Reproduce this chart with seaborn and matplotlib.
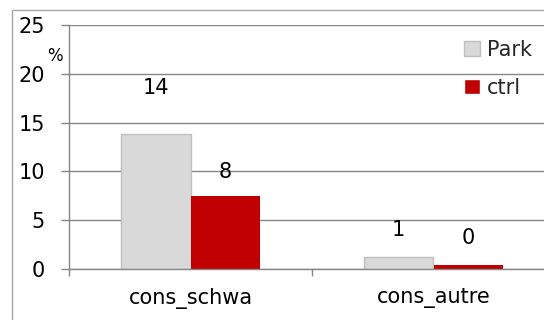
import matplotlib
matplotlib.use("Agg")
import matplotlib.pyplot as plt
import seaborn as sns
import pandas as pd
from matplotlib.patches import Rectangle

categories = ["cons_schwa", "cons_autre"]
groups = ["Park", "ctrl"]
park_values = [13.8, 1.2]
ctrl_values = [7.5, 0.4]
park_labels = ["14", "1"]
ctrl_labels = ["8", "0"]
y_ticks = [0, 5, 10, 15, 20, 25]

df = pd.DataFrame({
    "cat": categories * 2,
    "grp": [groups[0]] * len(categories) + [groups[1]] * len(categories),
    "val": park_values + ctrl_values,
})

sns.set_theme(style="white")
plt.rcParams["font.family"] = ["DejaVu Sans"]

GRAY = "#868686"
fig = plt.figure(figsize=(5.44, 3.2), dpi=100)
ax = fig.add_axes([69/544, 1-269/320, (555-69)/544, (269-25)/320])

sns.barplot(data=df, x="cat", y="val", hue="grp", order=categories, hue_order=groups,
            palette=["#D9D9D9", "#C00000"], saturation=1, width=0.572, gap=0,
            ax=ax, legend=True)

for p in ax.containers[0]:
    p.set_edgecolor("#BFBFBF")
    p.set_linewidth(1.0)
for p in ax.containers[1]:
    p.set_edgecolor("none")

ax.set_xlim(-0.5, 1.5)
ax.set_ylim(0, 25)
ax.set_yticks(y_ticks)
ax.set_yticklabels([str(t) for t in y_ticks])
ax.set_xlabel("")
ax.set_ylabel("")
ax.yaxis.grid(True, color=GRAY, linewidth=1.0)
ax.set_axisbelow(True)
for s in ["top", "right"]:
    ax.spines[s].set_visible(False)
for s in ["left", "bottom"]:
    ax.spines[s].set_color(GRAY)
    ax.spines[s].set_linewidth(1.0)

ax.tick_params(axis="y", which="major", left=True, length=6, width=1.0, color=GRAY,
               pad=11.5, labelsize=15, labelcolor="black")
ax.set_xticks([-0.5, 0.5, 1.5], minor=True)
ax.tick_params(axis="x", which="minor", bottom=True, length=5, width=1.0, color=GRAY)
ax.tick_params(axis="x", which="major", bottom=False, length=0, pad=14, labelsize=15,
               labelcolor="black")

# data labels
offsets_park = [46, 27]
offsets_ctrl = [24, 27]
for cont, labs, offs in [(ax.containers[0], park_labels, offsets_park),
                         (ax.containers[1], ctrl_labels, offsets_ctrl)]:
    for bar, lab, off in zip(cont, labs, offs):
        ax.annotate(lab, (bar.get_x() + bar.get_width()/2, bar.get_height()),
                    xytext=(0, off*0.72), textcoords="offset points",
                    ha="center", va="center", fontsize=15, color="black")

# % label
fig.text(55/544, 1-56/320, "%", ha="center", va="center", fontsize=12, color="black")

# legend
handles, labels = ax.get_legend_handles_labels()
ax.get_legend().remove()
handles[0].set_edgecolor("#BFBFBF")
leg = ax.legend(handles, labels, loc="upper left",
                bbox_to_anchor=(464/544, 1-40/320), bbox_transform=fig.transFigure,
                frameon=False, fontsize=15, handlelength=0.75, handleheight=0.75,
                handletextpad=0.35, labelspacing=0.85, borderpad=0, borderaxespad=0)

# outer chart border (cropped)
fig.patches.append(Rectangle((12/544, -0.1), 1.2, 1.1 - 9.5/320, transform=fig.transFigure,
                             fill=False, edgecolor="#A6A6A6", linewidth=1.0))

fig.savefig("out.png", dpi=100)
